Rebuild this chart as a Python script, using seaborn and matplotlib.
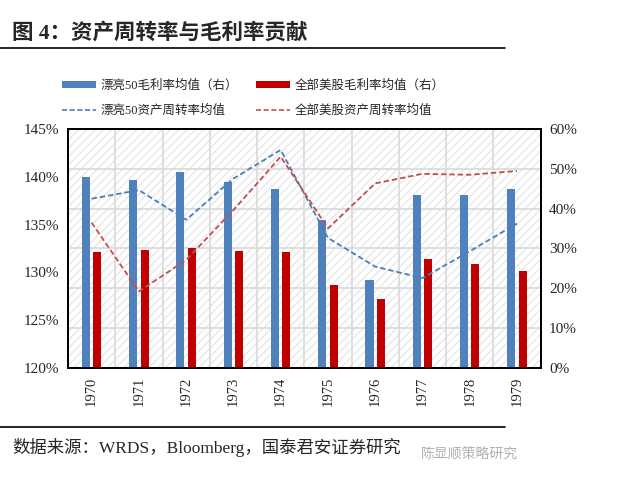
import numpy as np
import pandas as pd
import matplotlib
matplotlib.use("Agg")
import matplotlib.pyplot as plt
from matplotlib.patches import Rectangle, Patch
from matplotlib.lines import Line2D
import seaborn as sns

years = ['1970', '1971', '1972', '1973', '1974', '1975', '1976', '1977', '1978', '1979']
# gross margin (right axis, %)
gm_top50 = [48.0, 47.2, 49.2, 46.7, 45.0, 37.2, 22.1, 43.3, 43.3, 44.8]
gm_all = [29.1, 29.6, 30.1, 29.3, 29.0, 20.8, 17.2, 27.4, 26.0, 24.4]
# asset turnover (left axis, %)
at_top50 = [137.7, 138.6, 135.5, 139.8, 142.8, 133.6, 130.6, 129.4, 132.2, 135.1]
at_all = [135.2, 128.0, 131.3, 136.5, 142.1, 134.6, 139.3, 140.3, 140.2, 140.6]

names = ['漂亮50毛利率均值（右）', '全部美股毛利率均值（右）',
         '漂亮50资产周转率均值', '全部美股资产周转率均值']

sns.set_style("white")
plt.rcParams['font.family'] = ['Liberation Serif', 'Noto Sans CJK SC', 'DejaVu Sans']
plt.rcParams['hatch.linewidth'] = 0.8

BLUE = '#4f81bd'
RED = '#c00000'
LBLUE = '#4a7ebb'
LRED = '#c0504d'
DASH = (0, (3, 1.6))

fig = plt.figure(figsize=(6.26, 4.84), dpi=100)
ax = fig.add_axes([0.1086, 0.2397, 0.755, 0.494])

# bars on primary axis (ticks shown on right)
bars = pd.DataFrame({
    'year': years * 2,
    'value': gm_top50 + gm_all,
    'series': [names[0]] * len(years) + [names[1]] * len(years),
})
sns.barplot(data=bars, x='year', y='value', hue='series', ax=ax,
            palette=[BLUE, RED], width=0.48, gap=0.29, legend=False,
            saturation=1, zorder=3, linewidth=0)
ax.set_ylim(0, 60)
ax.set_xlim(-0.5, 9.5)

# background hatch + grid
ax.add_patch(Rectangle((0, 0), 1, 1, transform=ax.transAxes, facecolor='white',
                       edgecolor='#e3e3e3', hatch='////', linewidth=0, zorder=0))
ax.set_yticks(np.arange(0, 61, 10))
ax.set_xticks(np.arange(-0.5, 10, 1), minor=True)
ax.grid(True, axis='y', color='#d9d9d9', linewidth=1.2, zorder=1)
ax.grid(True, axis='x', which='minor', color='#d9d9d9', linewidth=1.2, zorder=1)
ax.set_axisbelow(True)
ax.set_xticks(range(len(years)))
ax.set_xticklabels(years, rotation=90, fontsize=10.5)
ax.set_xlabel('')
ax.set_ylabel('')

# lines on twin axis (ticks shown on left)
ax2 = ax.twinx()
x = np.arange(len(years))
sns.lineplot(x=x, y=at_top50, ax=ax2, color=LBLUE, linewidth=1.3)
sns.lineplot(x=x, y=at_all, ax=ax2, color=LRED, linewidth=1.3)
for ln in ax2.lines:
    ln.set_linestyle(DASH)
ax2.set_ylim(120, 145)
ax2.set_xlim(-0.5, 9.5)
ax2.set_ylabel('')

# swap sides: bars' scale on the right, lines' scale on the left
ax.yaxis.set_ticks_position('right')
ax.set_yticklabels([f'{v}%' for v in range(0, 61, 10)], fontsize=11)
ax2.yaxis.set_ticks_position('left')
ax2.set_yticks(np.arange(120, 146, 5))
ax2.set_yticklabels([f'{v}%' for v in range(120, 146, 5)], fontsize=11)
ax.tick_params(axis='both', which='both', length=0, pad=6)
ax2.tick_params(axis='both', length=0, pad=6)

for a in (ax, ax2):
    for s in a.spines.values():
        s.set_color('black')
        s.set_linewidth(1.3)

# legend
handles = [
    Patch(facecolor=BLUE, edgecolor='none'),
    Line2D([0], [0], color=LBLUE, linewidth=1.2, linestyle=DASH),
    Patch(facecolor=RED, edgecolor='none'),
    Line2D([0], [0], color=LRED, linewidth=1.2, linestyle=DASH),
]
labels = [names[0], names[2], names[1], names[3]]
fig.legend(handles, labels, ncol=2, frameon=False, loc='center',
           bbox_to_anchor=(0.405, 0.797), handlelength=2.7,
           handleheight=0.55, handletextpad=0.4, columnspacing=1.4,
           labelspacing=1.0,
           prop={'family': ['Liberation Serif', 'Noto Sans CJK SC'], 'size': 9})

# title, rules, source
fig.text(0.019, 0.932, '图 4：资产周转率与毛利率贡献', fontsize=15.5, fontweight='bold',
         va='center', ha='left', family=['Liberation Serif', 'Noto Sans CJK SC'])
fig.add_artist(Line2D([0, 0.807], [0.901, 0.901], color='black', linewidth=1.2))
fig.add_artist(Line2D([0, 0.807], [0.118, 0.118], color='black', linewidth=1.2))
fig.text(0.019, 0.075, '数据来源：WRDS，Bloomberg，国泰君安证券研究', fontsize=12.5,
         va='center', ha='left', family=['Liberation Serif', 'Noto Sans CJK SC'])
fig.text(0.672, 0.063, '陈显顺策略研究', fontsize=10, color='#b0b0b0',
         va='center', ha='left', family=['Noto Sans CJK SC'])

fig.savefig('out.png', dpi=100)
